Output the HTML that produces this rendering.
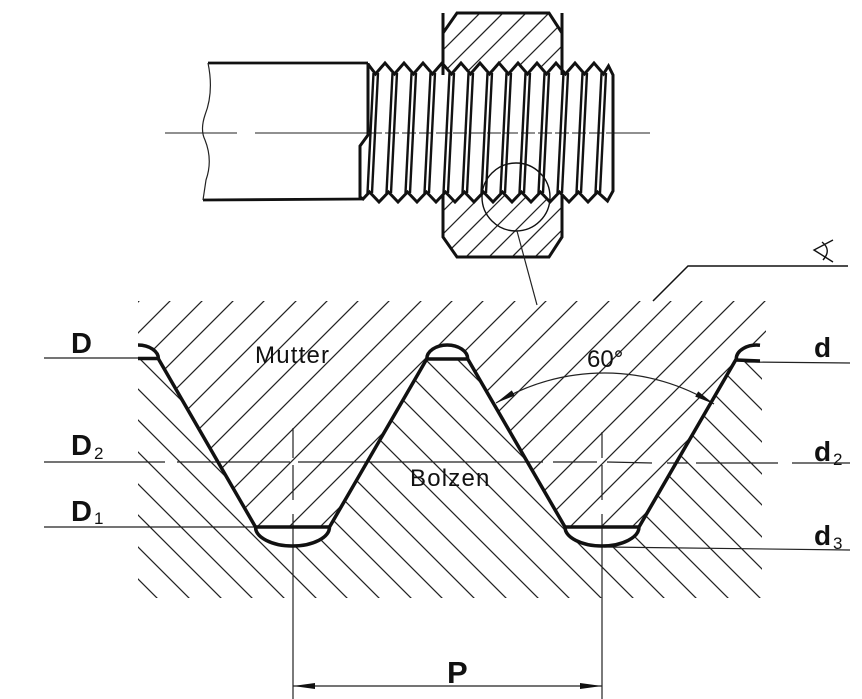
<!DOCTYPE html>
<html><head><meta charset="utf-8"><style>
html,body{margin:0;padding:0;background:#fff;}
svg{display:block;}
text{font-family:"Liberation Sans",Arial,sans-serif;fill:#111;}
.b{font-weight:bold;}
</style></head><body>
<svg width="862" height="699" viewBox="0 0 862 699" xmlns="http://www.w3.org/2000/svg">
<defs>
<clipPath id="nutc"><path d="M138,301 L766,301 L766,348 L757,345 A20.5,14 0 0 0 736.25,359 L639,527 L565,527 L467.75,359 A20.5,14 0 0 0 426.75,359 L329.5,527 L255.5,527 L158.5,359 A20.5,14 0 0 0 138,345 Z"/></clipPath>
<clipPath id="boltc"><path d="M138,598 L762,598 L762,359 L736.25,359 L639,527 A37,19 0 0 1 565,527 L467.75,359 L426.75,359 L329.5,527 A37,19 0 0 1 255.5,527 L158.5,359 L138,359 Z"/></clipPath>
<clipPath id="nuttop"><path d="M443,33 L457,13 L549,13 L562,33 L562,237 L549,257 L457,257 L443,237 Z"/></clipPath>
</defs>

<!-- ===== TOP VIEW ===== -->
<g clip-path="url(#nuttop)" stroke="#222" stroke-width="1.3">
<line x1="470" y1="0" x2="200" y2="270"/><line x1="493" y1="0" x2="223" y2="270"/>
<line x1="516" y1="0" x2="246" y2="270"/><line x1="539" y1="0" x2="269" y2="270"/>
<line x1="562" y1="0" x2="292" y2="270"/><line x1="585" y1="0" x2="315" y2="270"/>
<line x1="608" y1="0" x2="338" y2="270"/><line x1="631" y1="0" x2="361" y2="270"/>
<line x1="654" y1="0" x2="384" y2="270"/><line x1="677" y1="0" x2="407" y2="270"/>
<line x1="700" y1="0" x2="430" y2="270"/><line x1="723" y1="0" x2="453" y2="270"/>
<line x1="746" y1="0" x2="476" y2="270"/><line x1="769" y1="0" x2="499" y2="270"/>
<line x1="792" y1="0" x2="522" y2="270"/><line x1="815" y1="0" x2="545" y2="270"/>
</g>
<path d="M443,33 L457,13 L549,13 L562,33 L562,237 L549,257 L457,257 L443,237 Z" fill="none" stroke="#111" stroke-width="3"/>

<line x1="165" y1="133" x2="237" y2="133" stroke="#222" stroke-width="1"/>
<line x1="255" y1="133" x2="650" y2="133" stroke="#222" stroke-width="1"/>

<line x1="208" y1="63" x2="368" y2="63" stroke="#111" stroke-width="2.8"/>
<line x1="203" y1="200" x2="362" y2="199" stroke="#111" stroke-width="2.8"/>
<path d="M208,63 Q214,92 205,115 Q200,130 205,140 Q213,160 206,180 L203,200" fill="none" stroke="#222" stroke-width="1.2"/>

<path d="M368,63 L368,64 375.5,74 385,63 394.5,74 404,63 413.5,74 423,63 432.5,74 442,63 451.5,74 461,63 470.5,74 480,63 489.5,74 499,63 508.5,74 518,63 527.5,74 537,63 546.5,74 556,63 565.5,74 575,63 584.5,74 594,63 603.5,74 608.5,66 613,75 613,191 607.5,201 597.5,192 588,202 578.5,192 569,202 559.5,192 550,202 540.5,192 531,202 521.5,192 512,202 502.5,192 493,202 483.5,192 474,202 464.5,192 455,202 445.5,192 436,202 426.5,192 417,202 407.5,192 398,202 388.5,192 379,202 369.5,192 363,199 360,197 360,146 368,135 Z" fill="#fff" stroke="#111" stroke-width="3" stroke-linejoin="miter"/>
<line x1="368" y1="133" x2="613" y2="133" stroke="#222" stroke-width="1" stroke-dasharray="14,3"/>
<g stroke="#111" stroke-width="2.4">
<line x1="373.5" y1="73" x2="367.5" y2="193"/><line x1="378" y1="73" x2="372" y2="193"/>
<line x1="392.5" y1="73" x2="386.5" y2="193"/><line x1="397" y1="73" x2="391" y2="193"/>
<line x1="411.5" y1="73" x2="405.5" y2="193"/><line x1="416" y1="73" x2="410" y2="193"/>
<line x1="430.5" y1="73" x2="424.5" y2="193"/><line x1="435" y1="73" x2="429" y2="193"/>
<line x1="449.5" y1="73" x2="443.5" y2="193"/><line x1="454" y1="73" x2="448" y2="193"/>
<line x1="468.5" y1="73" x2="462.5" y2="193"/><line x1="473" y1="73" x2="467" y2="193"/>
<line x1="487.5" y1="73" x2="481.5" y2="193"/><line x1="492" y1="73" x2="486" y2="193"/>
<line x1="506.5" y1="73" x2="500.5" y2="193"/><line x1="511" y1="73" x2="505" y2="193"/>
<line x1="525.5" y1="73" x2="519.5" y2="193"/><line x1="530" y1="73" x2="524" y2="193"/>
<line x1="544.5" y1="73" x2="538.5" y2="193"/><line x1="549" y1="73" x2="543" y2="193"/>
<line x1="563.5" y1="73" x2="557.5" y2="193"/><line x1="568" y1="73" x2="562" y2="193"/>
<line x1="582.5" y1="73" x2="576.5" y2="193"/><line x1="587" y1="73" x2="581" y2="193"/>
<line x1="601.5" y1="73" x2="595.5" y2="193"/><line x1="606" y1="73" x2="600" y2="193"/>
</g>
<line x1="443" y1="13" x2="443" y2="75" stroke="#111" stroke-width="3"/>
<line x1="562" y1="13" x2="562" y2="75" stroke="#111" stroke-width="3"/>

<circle cx="516" cy="197" r="34" fill="none" stroke="#111" stroke-width="1.4"/>
<line x1="517" y1="231" x2="537" y2="305" stroke="#222" stroke-width="1.2"/>

<!-- ===== SECTION VIEW ===== -->
<g clip-path="url(#nutc)" stroke="#222" stroke-width="1.25">
<line x1="140" y1="300" x2="-160" y2="600"/><line x1="171" y1="300" x2="-129" y2="600"/>
<line x1="203" y1="300" x2="-97" y2="600"/><line x1="234" y1="300" x2="-66" y2="600"/>
<line x1="265" y1="300" x2="-35" y2="600"/><line x1="297" y1="300" x2="-3" y2="600"/>
<line x1="328" y1="300" x2="28" y2="600"/><line x1="359" y1="300" x2="59" y2="600"/>
<line x1="390" y1="300" x2="90" y2="600"/><line x1="422" y1="300" x2="122" y2="600"/>
<line x1="453" y1="300" x2="153" y2="600"/><line x1="484" y1="300" x2="184" y2="600"/>
<line x1="516" y1="300" x2="216" y2="600"/><line x1="547" y1="300" x2="247" y2="600"/>
<line x1="578" y1="300" x2="278" y2="600"/><line x1="610" y1="300" x2="310" y2="600"/>
<line x1="641" y1="300" x2="341" y2="600"/><line x1="672" y1="300" x2="372" y2="600"/>
<line x1="703" y1="300" x2="403" y2="600"/><line x1="735" y1="300" x2="435" y2="600"/>
<line x1="766" y1="300" x2="466" y2="600"/><line x1="797" y1="300" x2="497" y2="600"/>
<line x1="828" y1="300" x2="528" y2="600"/><line x1="859" y1="300" x2="559" y2="600"/>
</g>
<g clip-path="url(#boltc)" stroke="#222" stroke-width="1.25">
<line x1="-141" y1="300" x2="159" y2="600"/><line x1="-109" y1="300" x2="191" y2="600"/>
<line x1="-77" y1="300" x2="223" y2="600"/><line x1="-46" y1="300" x2="254" y2="600"/>
<line x1="-14" y1="300" x2="286" y2="600"/><line x1="18" y1="300" x2="318" y2="600"/>
<line x1="49" y1="300" x2="349" y2="600"/><line x1="81" y1="300" x2="381" y2="600"/>
<line x1="113" y1="300" x2="413" y2="600"/><line x1="144" y1="300" x2="444" y2="600"/>
<line x1="176" y1="300" x2="476" y2="600"/><line x1="208" y1="300" x2="508" y2="600"/>
<line x1="240" y1="300" x2="540" y2="600"/><line x1="271" y1="300" x2="571" y2="600"/>
<line x1="303" y1="300" x2="603" y2="600"/><line x1="335" y1="300" x2="635" y2="600"/>
<line x1="366" y1="300" x2="666" y2="600"/><line x1="398" y1="300" x2="698" y2="600"/>
<line x1="430" y1="300" x2="730" y2="600"/><line x1="462" y1="300" x2="762" y2="600"/>
<line x1="493" y1="300" x2="793" y2="600"/><line x1="525" y1="300" x2="825" y2="600"/>
<line x1="557" y1="300" x2="857" y2="600"/><line x1="588" y1="300" x2="888" y2="600"/>
<line x1="620" y1="300" x2="920" y2="600"/><line x1="652" y1="300" x2="952" y2="600"/>
<line x1="683" y1="300" x2="983" y2="600"/><line x1="715" y1="300" x2="1015" y2="600"/>
</g>

<g stroke="#222" stroke-width="1.2">
<line x1="44" y1="358" x2="140" y2="358"/>
<line x1="745" y1="362" x2="850" y2="363"/>
<line x1="44" y1="527" x2="256" y2="527"/>
<line x1="604" y1="547" x2="850" y2="550"/>
<line x1="44" y1="462" x2="165" y2="462"/>
<line x1="177" y1="462" x2="290" y2="462"/>
<line x1="298" y1="462" x2="543" y2="462"/>
<line x1="553" y1="462" x2="597" y2="462"/>
<line x1="607" y1="462" x2="652" y2="463"/>
<line x1="667" y1="463" x2="688" y2="463"/>
<line x1="696" y1="463" x2="778" y2="463"/>
<line x1="792" y1="463" x2="850" y2="463"/>
<line x1="293" y1="428" x2="293" y2="458"/>
<line x1="293" y1="465" x2="293" y2="500"/>
<line x1="293" y1="514" x2="293" y2="699"/>
<line x1="602" y1="432" x2="602" y2="458"/>
<line x1="602" y1="465" x2="602" y2="500"/>
<line x1="602" y1="514" x2="602" y2="699"/>
</g>

<g fill="none" stroke="#111" stroke-width="3.5" stroke-linejoin="round">
<path d="M138,345 A20.5,14 0 0 1 158.5,359 L255.5,527 A37,19 0 0 0 329.5,527 L426.75,359 A20.5,14 0 0 1 467.75,359 L565,527 A37,19 0 0 0 639,527 L736.25,359 A20.5,14 0 0 1 760,345.2"/>
<line x1="138" y1="358.5" x2="158.5" y2="358.5"/>
<line x1="426.75" y1="359" x2="467.75" y2="359"/>
<line x1="255.5" y1="527" x2="329.5" y2="527"/>
<line x1="565" y1="527" x2="639" y2="527"/>
<line x1="736.25" y1="360" x2="760" y2="361"/>
</g>

<path d="M496,403 A210,210 0 0 1 714,404" fill="none" stroke="#222" stroke-width="1.2"/>
<polygon points="496,403 514.8,395.6 511.8,390.4" fill="#111"/>
<polygon points="714,404 695.2,396.6 698.2,391.4" fill="#111"/>

<line x1="293" y1="686" x2="602" y2="686" stroke="#222" stroke-width="1.2"/>
<polygon points="293,686 315,683 315,689" fill="#111"/>
<polygon points="602,686 580,683 580,689" fill="#111"/>

<polyline points="653,301 688,266 848,266" fill="none" stroke="#111" stroke-width="1.5"/>
<g fill="none" stroke="#111" stroke-width="1.4">
<polyline points="833,240 814,250 833,262"/>
<path d="M822,242 Q832,250 823,260"/>
</g>

<text class="b" x="71" y="353" font-size="29">D</text>
<text class="b" x="71" y="455" font-size="29">D</text>
<text x="94" y="459" font-size="17">2</text>
<text class="b" x="71" y="521" font-size="29">D</text>
<text x="94" y="524" font-size="17">1</text>
<text class="b" x="814" y="357" font-size="28">d</text>
<text class="b" x="814" y="461" font-size="28">d</text>
<text x="833" y="465" font-size="17">2</text>
<text class="b" x="814" y="545" font-size="28">d</text>
<text x="833" y="549" font-size="17">3</text>
<text x="255" y="363" font-size="24" letter-spacing="1.2">Mutter</text>
<text x="410" y="486" font-size="24" letter-spacing="1.2">Bolzen</text>
<text x="587" y="367" font-size="24">60°</text>
<text class="b" x="447" y="683" font-size="31">P</text>
</svg>
</body></html>
